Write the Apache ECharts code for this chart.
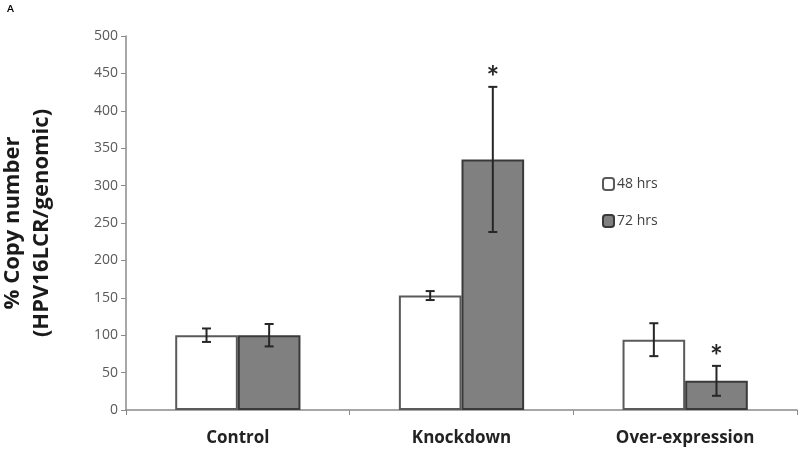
<!DOCTYPE html>
<html><head><meta charset="utf-8">
<script src="https://cdn.jsdelivr.net/npm/echarts@6/dist/echarts.min.js"></script>
<style>html,body{margin:0;padding:0;background:#fff}#c{width:800px;height:454px}</style>
</head><body><div id="c"></div>
<script>
var categories = ['Control', 'Knockdown', 'Over-expression'];
var seriesNames = ['48 hrs', '72 hrs'];
var values48 = [100, 153, 94];
var errors48 = [9, 6, 22];
var values72 = [100, 335, 39];
var errors72 = [15, 97, 20];
var sig48 = [false, false, false];
var sig72 = [false, true, true];
var yTicks = [0, 50, 100, 150, 200, 250, 300, 350, 400, 450, 500];

var chart = echarts.init(document.getElementById('c'));
var FONT = 'Lato, "Open Sans", sans-serif';
var NAME_FONT = '"Open Sans", Lato, sans-serif';
var CAT_GAP = 0.44;

function errData(vals, errs, sig, idx) {
  return vals.map(function (v, i) { return [i, v, errs[i], idx, sig[i] ? 1 : 0]; });
}
function renderErr(params, api) {
  var i = api.value(0), v = api.value(1), e = api.value(2), s = api.value(3), star = api.value(4);
  var band = api.size([1, 0])[0];
  var bw = band * (1 - CAT_GAP) / 2;
  var c = api.coord([i, v]);
  var x = c[0] + (s === 0 ? -bw / 2 : bw / 2);
  var top = api.coord([i, v + e])[1];
  var bot = api.coord([i, v - e])[1];
  var cap = 4.5;
  var st = { stroke: '#262626', lineWidth: 2 };
  var children = [
    { type: 'line', shape: { x1: x, y1: top, x2: x, y2: bot }, style: st },
    { type: 'line', shape: { x1: x - cap, y1: top, x2: x + cap, y2: top }, style: st },
    { type: 'line', shape: { x1: x - cap, y1: bot, x2: x + cap, y2: bot }, style: st }
  ];
  if (star) {
    children.push({ type: 'text', style: { text: '*', x: x, y: top - 9, align: 'center', verticalAlign: 'middle', font: 'bold 30px ' + FONT, fill: '#262626' } });
  }
  return { type: 'group', children: children };
}

chart.setOption({
  animation: false,
  backgroundColor: '#fff',
  graphic: [{ type: 'text', left: 7, top: 4, style: { text: 'A', font: 'bold 10px ' + FONT, fill: '#000' } }],
  grid: { left: 126, right: 3, top: 36, bottom: 44, containLabel: false, outerBoundsMode: 'none' },
  legend: {
    orient: 'vertical', left: 597, top: 172, itemWidth: 11, itemHeight: 12, itemGap: 23,
    data: seriesNames,
    textStyle: { fontFamily: NAME_FONT, fontSize: 14, color: '#404040', padding: [0, 0, 0, -2] }
  },
  xAxis: {
    type: 'category', data: categories,
    axisLine: { lineStyle: { color: '#8a8a8a', width: 1.5 } },
    axisTick: { show: true, length: 5, lineStyle: { color: '#8a8a8a' } },
    axisLabel: { margin: 20, fontFamily: NAME_FONT, fontSize: 17, fontWeight: 'bold', color: '#222' }
  },
  yAxis: {
    type: 'value', min: 0, max: 500, interval: 50,
    name: '% Copy number\n(HPV16LCR/genomic)', nameLocation: 'middle', nameRotate: 90, nameGap: 70,
    nameTextStyle: { fontFamily: NAME_FONT, fontSize: 22, fontWeight: 'bold', color: '#1a1a1a', lineHeight: 29 },
    splitLine: { show: false },
    axisLine: { show: true, lineStyle: { color: '#8a8a8a', width: 1.5 } },
    axisTick: { show: true, length: 5, lineStyle: { color: '#8a8a8a' } },
    axisLabel: { margin: 8, fontFamily: NAME_FONT, fontSize: 14, color: '#595959',
      formatter: function (v) { return yTicks.indexOf(v) >= 0 ? String(v) : ''; } }
  },
  series: [
    { name: seriesNames[0], type: 'bar', data: values48, barGap: '0%', barCategoryGap: (CAT_GAP * 100) + '%',
      itemStyle: { color: '#ffffff', borderColor: '#5a5a5a', borderWidth: 2 } },
    { name: seriesNames[1], type: 'bar', data: values72, barGap: '0%', barCategoryGap: (CAT_GAP * 100) + '%',
      itemStyle: { color: '#808080', borderColor: '#3a3a3a', borderWidth: 2 } },
    { type: 'custom', renderItem: renderErr, data: errData(values48, errors48, sig48, 0), z: 5, silent: true },
    { type: 'custom', renderItem: renderErr, data: errData(values72, errors72, sig72, 1), z: 5, silent: true }
  ]
});
</script></body></html>
